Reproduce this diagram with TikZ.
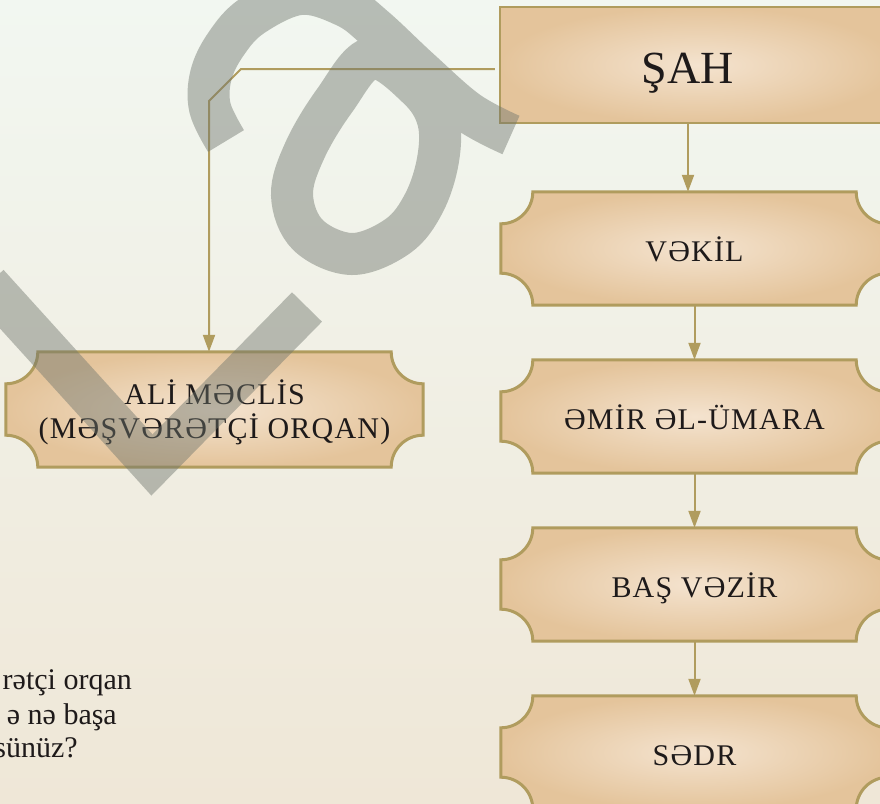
\documentclass[tikz,border=0pt]{standalone}
\usepackage{fontspec}
\setmainfont{Liberation Serif}
\newfontfamily\boxfont[LetterSpace = 4]{Liberation Serif}
\usetikzlibrary{
    arrows.meta,
    backgrounds,
    calc
}
\definecolor{bgtop}{RGB}{242,247,241}
\definecolor{bgbottom}{RGB}{239,231,215}
\definecolor{gold}{RGB}{176,156,94}
\definecolor{parchlight}{RGB}{244,227,207}
\definecolor{parchdark}{RGB}{228,196,155}
\definecolor{ink}{RGB}{30,26,26}
\definecolor{stampgrey}{RGB}{111,117,109}
\tikzset {
    title box/.style = {
        minimum width = 376pt, minimum height = 116pt, inner sep = 0pt,
        text height = 36pt, text depth = 0pt,
        text = ink, font = \fontsize{46}{50}\selectfont
    },
    rank box/.style = {
        minimum width = 387pt, minimum height = 113pt, inner sep = 0pt,
        text height = 25pt, text depth = 0pt,
        text = ink, align = center, font = \boxfont\fontsize{30}{34}\selectfont
    },
    parchment/.style = {draw = gold, line width = 3pt, inner color = parchlight, outer color = parchdark},
    link/.style = {draw = gold, line width = 2pt, arrows = {-Triangle[length = 17pt, width = 12pt]}},
    stamp/.style = {draw = stampgrey, opacity = 0.45, line width = 42pt, line join = miter},
    question/.style = {anchor = base east, inner sep = 0pt, text = ink, font = \fontsize{30}{34}\selectfont}
}
% ticket outline with concave corners round a node
\newcommand{\notched}[2][32]{
    \path[parchment]
        ($(#2.north west) + (#1pt, 0)$) -- ($(#2.north east) + (-#1pt, 0)$)
        arc[start angle = 180, end angle = 270, radius = #1pt]
        -- ($(#2.south east) + (0, #1pt)$)
        arc[start angle = 90, end angle = 180, radius = #1pt]
        -- ($(#2.south west) + (#1pt, 0)$)
        arc[start angle = 0, end angle = 90, radius = #1pt]
        -- ($(#2.north west) + (0, -#1pt)$)
        arc[start angle = 270, end angle = 360, radius = #1pt]
        -- cycle;
}

\begin{document}
\begin{tikzpicture}[x = 1pt, y = 1pt]
    \useasboundingbox (0, 0) rectangle (880, -803);
    \node (sah)   [title box] at (688, -65) {ŞAH};
    \node (vekil) [rank box] at (694.5, -248.5) {VƏKİL};
    \node (emir)  [rank box] at (694.5, -416.5) {ƏMİR ƏL-ÜMARA};
    \node (bas)   [rank box] at (694.5, -584.5) {BAŞ VƏZİR};
    \node (sedr)  [rank box] at (694.5, -752.5) {SƏDR};
    \node (ali)   [rank box, minimum width = 417pt, minimum height = 115pt, text height = ]
        at (214.5, -409.5) {ALİ MƏCLİS\\(MƏŞVƏRƏTÇİ ORQAN)};
    \node (q1) [question] at (132, -689) {rətçi orqan};
    \node (q2) [question] at (117, -724) {ə nə başa};
    \node (q3) [question] at ( 78, -757) {sünüz?};
    \begin{scope}[on background layer]
        \shade[top color = bgtop, bottom color = bgbottom] (0, 0) rectangle (880, -803);
        \path[parchment, line width = 2.5pt] (sah.north west) rectangle ($(sah.south east) + (20pt, 0)$);
        \notched{vekil}
        \notched{emir}
        \notched{bas}
        \notched{sedr}
        \notched{ali}
    \end{scope}
    \coordinate (turn) at (241, -69);
    \coordinate (drop) at (209, -101);
    \draw[link] (sah.south) -- (vekil.north -| sah.south);
    \draw[link] (vekil.south) -- (emir.north);
    \draw[link] (emir.south) -- (bas.north);
    \draw[link] (bas.south) -- (sedr.north);
    \draw[link, shorten < = 5pt] ([yshift = -4pt]sah.west) -- (turn) -- (drop) -- (drop |- ali.north);
    % watermark
    \draw[stamp]
        (-12, -284) -- (152, -465) -- (307, -307)
        plot[smooth, tension = 0.6] coordinates {
            (226, -141) (210, -108) (211, -75) (226, -44) (252, -16) (300, 6)
            (345, -6) (375, -28) (420, -70) (468, -112) (511, -135)}
        plot[smooth cycle, tension = 0.6] coordinates {
            (372, -58) (335, -100) (305, -150) (292, -195) (308, -235) (352, -254)
            (398, -236) (424, -203) (438, -160) (438, -120) (418, -88)};
\end{tikzpicture}
\end{document}
